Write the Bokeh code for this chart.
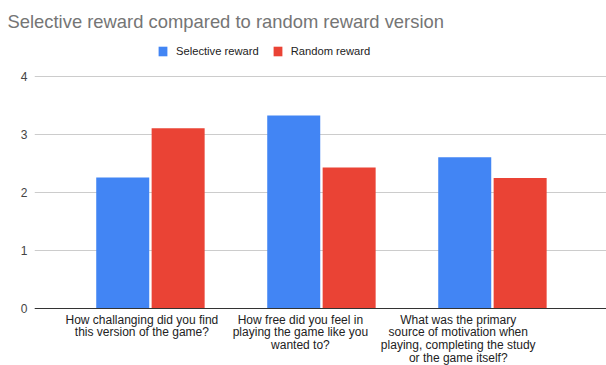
from bokeh.plotting import figure
from bokeh.models import ColumnDataSource, Legend, LegendItem, FixedTicker, Range1d, Span
from bokeh.core.properties import value
from bokeh.embed import file_html
from bokeh.resources import INLINE

categories = [
    "How challanging did you find\nthis version of the game?",
    "How free did you feel in\nplaying the game like you\nwanted to?",
    "What was the primary\nsource of motivation when\nplaying, completing the study\nor the game itself?",
]
selective = [2.26, 3.33, 2.61]
random_reward = [3.11, 2.43, 2.25]
series_names = ["Selective reward", "Random reward"]
y_ticks = [0, 1, 2, 3, 4]

FONT = "Liberation Sans"
BLUE = "#4285F4"
RED = "#EA4335"
LINE_STEP = 12.7

idx = list(range(len(categories)))
label_pos = [-0.05, 0.877, 1.80]

src = ColumnDataSource(dict(
    xs=[i - 0.162 for i in idx],
    xr=[i + 0.162 for i in idx],
    sel=selective,
    rnd=random_reward,
))

lx, ly, lt, loff = [], [], [], []
for i, cat in enumerate(categories):
    for j, line in enumerate(cat.split("\n")):
        lx.append(label_pos[i])
        ly.append(0)
        lt.append(line)
        loff.append(4 + LINE_STEP * j)
lab_src = ColumnDataSource(dict(x=lx, y=ly, text=lt, off=loff))

p = figure(width=606, height=365, output_backend="svg", toolbar_location=None,
           x_range=Range1d(-0.678, 2.667), y_range=Range1d(-0.983, 4.76),
           min_border_left=34, min_border_right=0, min_border_top=32, min_border_bottom=0,
           title="Selective reward compared to random reward version")
p.outline_line_color = None
p.title.text_font = FONT
p.title.text_font_size = "18.4px"
p.title.text_font_style = "normal"
p.title.text_color = "#757575"
p.title.offset = -27
p.title.standoff = 1
p.title.vertical_align = "bottom"

r1 = p.vbar(x="xs", top="sel", width=0.31, source=src, color=BLUE, line_color=None)
r2 = p.vbar(x="xr", top="rnd", width=0.31, source=src, color=RED, line_color=None)

p.add_layout(Span(location=0, dimension="width", line_color="#333333", line_width=1))

p.text(x="x", y="y", text="text", source=lab_src, y_offset="off",
       text_align="center", text_baseline="top", text_font=value(FONT),
       text_font_size="12px", text_color="#222222")

legend = Legend(items=[LegendItem(label=series_names[0], renderers=[r1]),
                       LegendItem(label=series_names[1], renderers=[r2])],
                orientation="horizontal", location=(123, 308))
legend.label_text_font = FONT
legend.label_text_font_size = "11.2px"
legend.label_text_color = "#222222"
legend.glyph_width = 11
legend.glyph_height = 12
legend.label_standoff = 8
legend.spacing = 13
legend.border_line_color = None
legend.background_fill_alpha = 0
legend.padding = 0
legend.margin = 0
p.add_layout(legend)

p.yaxis.ticker = FixedTicker(ticks=y_ticks)
p.yaxis.axis_line_color = None
p.yaxis.major_tick_line_color = None
p.yaxis.minor_tick_line_color = None
p.yaxis.major_tick_out = 0
p.yaxis.major_tick_in = 0
p.yaxis.major_label_text_font = FONT
p.yaxis.major_label_text_font_size = "12px"
p.yaxis.major_label_text_color = "#444444"
p.yaxis.major_label_standoff = 7

p.xaxis.visible = False

p.xgrid.grid_line_color = None
p.ygrid.grid_line_color = "#cccccc"
p.ygrid.ticker = FixedTicker(ticks=y_ticks)

open("out.html", "w").write(file_html(p, INLINE))
